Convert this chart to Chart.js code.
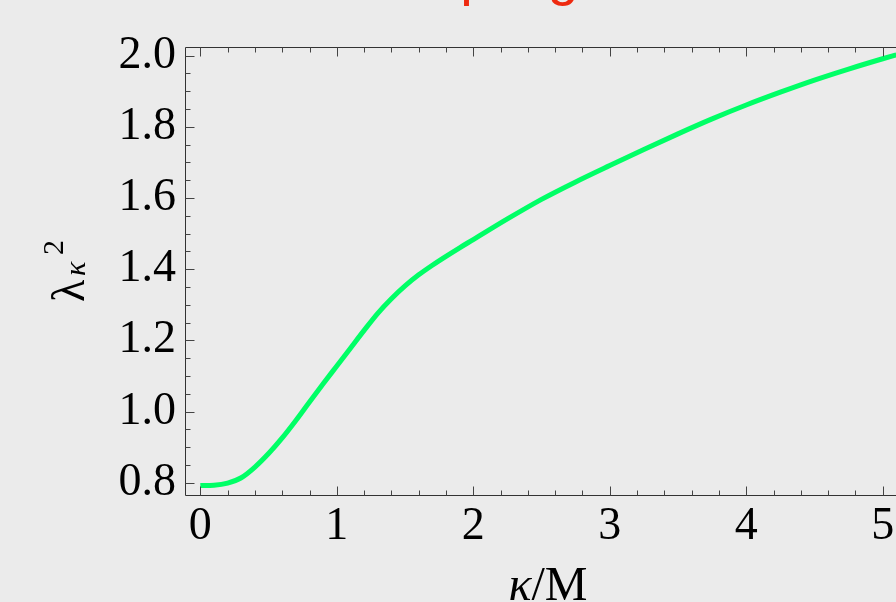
<!DOCTYPE html>
<html>
<head>
  <meta charset="utf-8">
  <title>lambda_kappa^2 vs kappa/M</title>
  <script src="https://cdn.jsdelivr.net/npm/chart.js"></script>
  <style>
    html, body { margin: 0; padding: 0; background: #ebebeb; overflow: hidden; width: 896px; height: 602px; }
    #wrap { position: relative; width: 896px; height: 602px; overflow: hidden; }
    canvas { position: absolute; left: 0; top: 0; }
  </style>
</head>
<body>
  <div id="wrap"><canvas id="chart" width="960" height="602"></canvas></div>

  <script>
    // curve
    const kappa = [0, 0.1, 0.2, 0.3, 0.4, 0.5, 0.6, 0.7, 0.8, 0.9, 1.0, 1.1, 1.2, 1.3, 1.4, 1.5, 1.6, 1.7, 1.8, 1.9,
      2.0, 2.25, 2.5, 2.75, 3.0, 3.25, 3.5, 3.75, 4.0, 4.25, 4.5, 4.75, 5.0, 5.1];
    const lambda2 = [0.792, 0.793, 0.799, 0.814, 0.844, 0.882, 0.926, 0.975, 1.027, 1.078, 1.128, 1.178, 1.228, 1.276, 1.317, 1.353, 1.384, 1.411, 1.436, 1.460,
      1.483, 1.541, 1.596, 1.645, 1.691, 1.736, 1.780, 1.822, 1.861, 1.897, 1.931, 1.962, 1.991, 2.002];

    const xTicks = [0, 1, 2, 3, 4, 5];
    const yTicks = [0.8, 1.0, 1.2, 1.4, 1.6, 1.8, 2.0];
    const titleText = "coupling";

    const SERIF = "'Liberation Serif', 'Times New Roman', serif";

    // inward major/minor ticks, frame, axis labels, title
    const framePlugin = {
      id: "frame",
      afterDraw(chart) {
        const { ctx, chartArea: a, scales: { x, y } } = chart;
        ctx.save();
        ctx.strokeStyle = "#333";
        ctx.lineWidth = 1;
        const L = Math.round(a.left) - 0.5, R = Math.round(a.right) + 0.5;
        const T = Math.round(a.top) + 0.5, B = Math.round(a.bottom) + 0.5;
        ctx.beginPath();
        ctx.moveTo(L, T); ctx.lineTo(R, T);
        ctx.moveTo(L, T); ctx.lineTo(L, B); ctx.lineTo(R, B);
        ctx.stroke();

        ctx.strokeStyle = "#444";
        ctx.beginPath();
        for (let i = 0; i <= 26; i++) {
          const v = i * 0.2;
          if (v < x.min || v > x.max) continue;
          const px = Math.round(x.getPixelForValue(v)) + 0.5;
          const len = i % 5 === 0 ? 9 : 5;
          ctx.moveTo(px, B); ctx.lineTo(px, B - len);
          ctx.moveTo(px, T); ctx.lineTo(px, T + len);
        }
        for (let i = 15; i <= 41; i++) {
          const v = i * 0.05;
          if (v < y.min || v > y.max) continue;
          const py = Math.round(y.getPixelForValue(v)) + 0.5;
          const len = i % 4 === 0 ? 9 : 5;
          ctx.moveTo(L, py); ctx.lineTo(L + len, py);
        }
        ctx.stroke();

        // x axis label: kappa/M
        ctx.fillStyle = "#000";
        ctx.textBaseline = "alphabetic";
        ctx.font = "italic 48px " + SERIF;
        const wk = ctx.measureText("\u03BA").width;
        ctx.font = "48px " + SERIF;
        const wm = ctx.measureText("/M").width;
        const x0 = 548 - (wk + wm) / 2;
        ctx.font = "italic 48px " + SERIF;
        ctx.fillText("\u03BA", x0, 600);
        ctx.font = "48px " + SERIF;
        ctx.fillText("/M", x0 + wk, 600);

        // y axis label: lambda_kappa^2
        ctx.save();
        ctx.translate(84, 302);
        ctx.rotate(-Math.PI / 2);
        ctx.font = "46px " + SERIF;
        ctx.fillText("\u03BB", 0, 0);
        ctx.font = "italic 30px " + SERIF;
        ctx.fillText("\u03BA", 26, 1);
        ctx.font = "30px " + SERIF;
        ctx.fillText("2", 47, -21);
        ctx.restore();

        // title, mostly above the visible area
        ctx.fillStyle = "#ee2a10";
        ctx.font = "56px 'Liberation Sans', Arial, sans-serif";
        ctx.fillText(titleText, 370, -6);
        ctx.restore();
      }
    };

    new Chart(document.getElementById("chart"), {
      type: "line",
      data: {
        labels: kappa,
        datasets: [{
          data: kappa.map((k, i) => ({ x: k, y: lambda2[i] })),
          borderColor: "#00ff66",
          borderWidth: 5,
          pointRadius: 0,
          fill: false,
          cubicInterpolationMode: "monotone"
        }]
      },
      options: {
        responsive: false,
        animation: false,
        devicePixelRatio: 1,
        layout: { padding: { top: 47, right: 50, left: 0, bottom: 0 } },
        plugins: { legend: { display: false }, tooltip: { enabled: false }, title: { display: false } },
        scales: {
          x: {
            type: "linear",
            min: -0.105,
            max: 5.2,
            afterFit: s => { s.height = 107; },
            afterBuildTicks: s => { s.ticks = xTicks.map(v => ({ value: v })); },
            grid: { display: false, drawTicks: false },
            border: { display: false },
            ticks: {
              color: "#000",
              font: { family: SERIF, size: 46 },
              padding: 4,
              maxRotation: 0,
              autoSkip: false,
              callback: v => String(v)
            }
          },
          y: {
            type: "linear",
            min: 0.7655,
            max: 2.024,
            afterFit: s => { s.width = 186; },
            afterBuildTicks: s => { s.ticks = yTicks.map(v => ({ value: v })); },
            grid: { display: false, drawTicks: false },
            border: { display: false },
            ticks: {
              color: "#000",
              font: { family: SERIF, size: 46 },
              padding: 10,
              autoSkip: false,
              callback: v => v.toFixed(1)
            }
          }
        }
      },
      plugins: [framePlugin]
    });
  </script>
</body>
</html>
